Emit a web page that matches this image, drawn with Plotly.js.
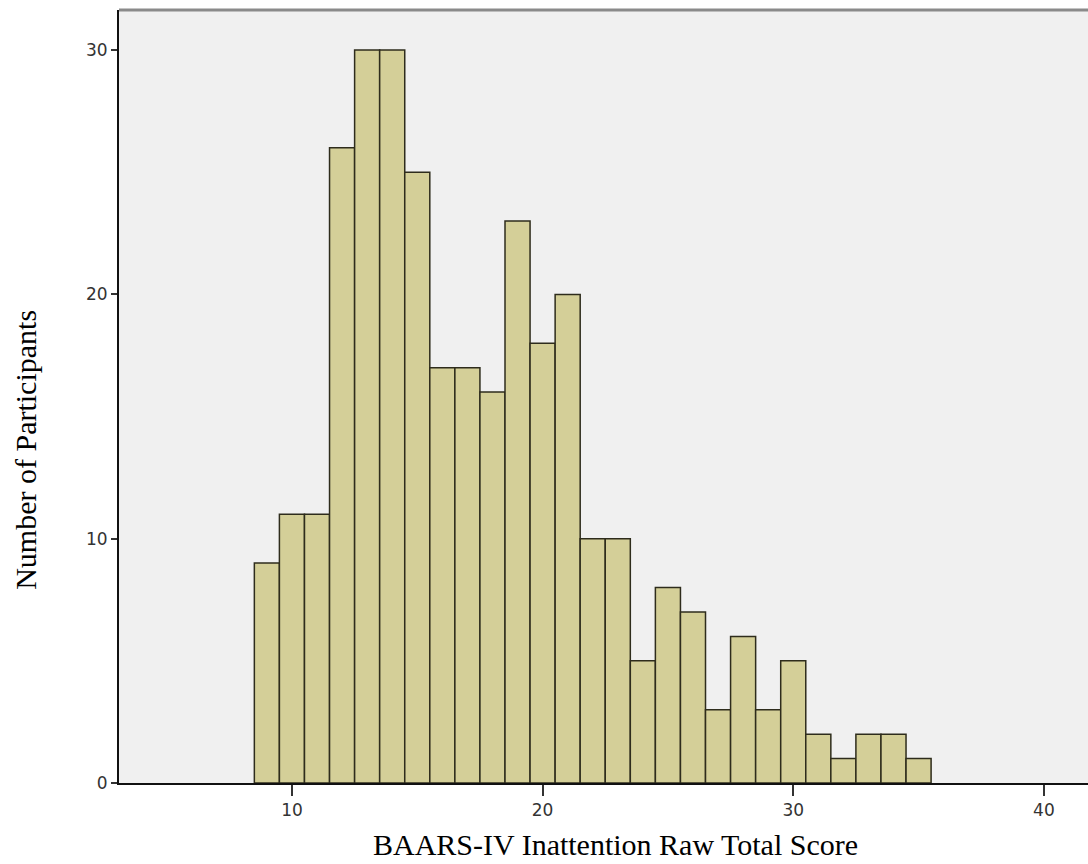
<!DOCTYPE html>
<html>
<head>
<meta charset="utf-8">
<script src="https://cdn.plot.ly/plotly-3.0.1.min.js"></script>
<style>html,body{margin:0;padding:0;background:#fff;}#chart{width:1088px;height:864px;}</style>
</head>
<body>
<div id="chart"></div>
<script>
const scores = [9,10,11,12,13,14,15,16,17,18,19,20,21,22,23,24,25,26,27,28,29,30,31,32,33,34,35];
const counts = [9,11,11,26,30,30,25,17,17,16,23,18,20,10,10,5,8,7,3,6,3,5,2,1,2,2,1];
const xTickVals = [10,20,30,40];
const yTickVals = [0,10,20,30];
const xTitle = "BAARS-IV Inattention Raw Total Score";
const yTitle = "Number of Participants";

const trace = {
  type: "bar",
  x: scores,
  y: counts,
  width: 1,
  marker: {color: "#d4cf98", line: {color: "#2e2c1c", width: 1.5}},
  hoverinfo: "x+y"
};

const tickFont = {family: "DejaVu Sans", size: 17, color: "#333"};

const layout = {
  width: 1088, height: 864,
  margin: {l: 119, r: 0, t: 10, b: 81},
  paper_bgcolor: "#ffffff",
  plot_bgcolor: "#f0f0f0",
  showlegend: false,
  bargap: 0,
  xaxis: {
    range: [3.1, 41.76],
    tickvals: xTickVals,
    ticks: "outside", ticklen: 11, tickwidth: 2, tickcolor: "#333",
    showline: true, linecolor: "#111", linewidth: 2,
    showgrid: false, zeroline: false,
    tickfont: tickFont
  },
  yaxis: {
    range: [0, 31.64],
    tickvals: yTickVals,
    ticks: "outside", ticklen: 6, tickwidth: 2, tickcolor: "#333",
    showline: true, linecolor: "#111", linewidth: 2,
    showgrid: false, zeroline: false,
    tickfont: tickFont
  },
  shapes: [
    {type: "line", xref: "paper", yref: "paper", x0: 0, x1: 1, y0: 1, y1: 1,
     line: {color: "#8a8a8a", width: 3}}
  ],
  annotations: [
    {text: xTitle, xref: "paper", yref: "paper", x: 0.512, y: 0, yshift: -61,
     xanchor: "center", yanchor: "middle", showarrow: false,
     font: {family: "Liberation Serif", size: 30, color: "#000"}},
    {text: yTitle, xref: "paper", yref: "paper", x: 0, xshift: -93, y: 0.431,
     xanchor: "center", yanchor: "middle", textangle: -90, showarrow: false,
     font: {family: "Liberation Serif", size: 30, color: "#000"}}
  ]
};

Plotly.newPlot("chart", [trace], layout, {displayModeBar: false, staticPlot: true});
</script>
</body>
</html>
